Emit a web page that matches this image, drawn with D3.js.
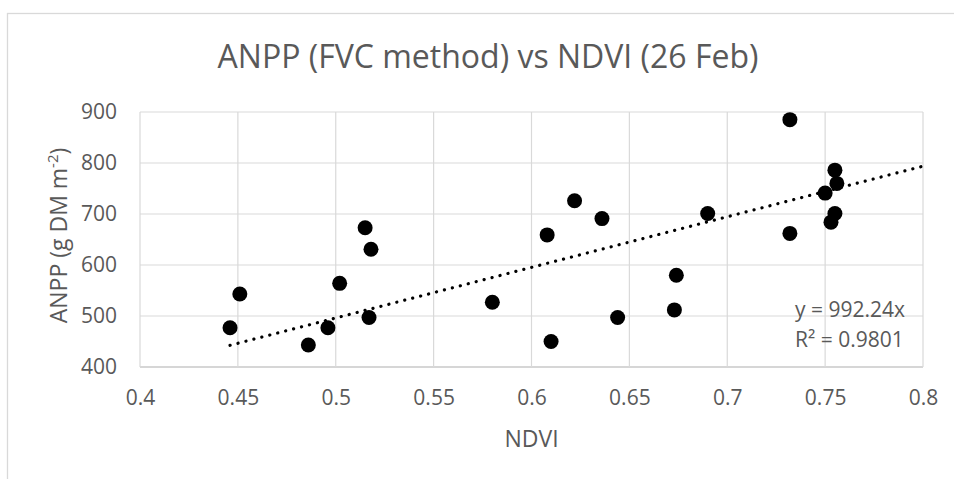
<!DOCTYPE html>
<html>
<head>
<meta charset="utf-8">
<script src="https://cdn.jsdelivr.net/npm/d3@7"></script>
<style>
  body { margin: 0; background: #fff; }
  text { font-family: "Open Sans", sans-serif; fill: #595959; }
</style>
</head>
<body>
<div id="chart"></div>
<script>
// data
var ndvi = [0.446, 0.451, 0.486, 0.496, 0.502, 0.515, 0.517, 0.518, 0.580, 0.608,
            0.610, 0.622, 0.636, 0.644, 0.673, 0.674, 0.690, 0.732, 0.732, 0.750,
            0.755, 0.756, 0.753, 0.755];
var anpp = [477, 543, 443, 477, 564, 673, 497, 631, 527, 659,
            450, 726, 691, 497, 512, 580, 701, 885, 662, 741,
            786, 760, 684, 701];
var xTicks = [0.4, 0.45, 0.5, 0.55, 0.6, 0.65, 0.7, 0.75, 0.8];
var yTicks = [400, 500, 600, 700, 800, 900];
var slope = 992.24;
var eqnLabels = ["y = 992.24x", "R² = 0.9801"];

var width = 954, height = 479;
var margin = {top: 112, right: 31, bottom: 112, left: 140};
var w = width - margin.left - margin.right,
    h = height - margin.top - margin.bottom;

var svg = d3.select("#chart").append("svg")
    .attr("width", width)
    .attr("height", height);

// chart frame (cut off at right and bottom)
svg.append("rect")
    .attr("x", 7.5).attr("y", 13.5)
    .attr("width", 980).attr("height", 500)
    .attr("fill", "none")
    .attr("stroke", "#d9d9d9")
    .attr("stroke-width", 1.3);

svg.append("text")
    .attr("x", 488).attr("y", 68)
    .attr("text-anchor", "middle")
    .style("font-size", "32px")
    .text("ANPP (FVC method) vs NDVI (26 Feb)");

var g = svg.append("g")
    .attr("transform", "translate(" + margin.left + "," + margin.top + ")");

var x = d3.scaleLinear().domain([0.4, 0.8]).range([0, w]);
var y = d3.scaleLinear().domain([400, 900]).range([h, 0]);

// gridlines
g.selectAll(".hgrid").data(yTicks).enter().append("line")
    .attr("x1", 0).attr("x2", w)
    .attr("y1", function(d) { return y(d); })
    .attr("y2", function(d) { return y(d); })
    .attr("stroke", function(d) { return d == 400 ? "#c8c8c8" : "#d9d9d9"; })
    .attr("stroke-width", function(d) { return d == 400 ? 1.6 : 1.2; });

g.selectAll(".vgrid").data(xTicks).enter().append("line")
    .attr("y1", 0).attr("y2", h)
    .attr("x1", function(d) { return x(d); })
    .attr("x2", function(d) { return x(d); })
    .attr("stroke", "#d9d9d9")
    .attr("stroke-width", 1.2);

// axes (labels only)
var xAxis = g.append("g")
    .attr("transform", "translate(0," + h + ")")
    .call(d3.axisBottom(x).tickValues(xTicks).tickSize(0).tickPadding(23)
          .tickFormat(function(d) { return String(+d.toFixed(2)); }));
var yAxis = g.append("g")
    .call(d3.axisLeft(y).tickValues(yTicks).tickSize(0).tickPadding(23));
[xAxis, yAxis].forEach(function(a) {
    a.select(".domain").remove();
    a.selectAll("text")
        .style("font-family", "'Open Sans', sans-serif")
        .style("font-size", "21px")
        .attr("fill", "#595959");
});

// trendline through origin, from smallest NDVI to end of axis
var trendX = [d3.min(ndvi), 0.8];
g.append("line")
    .attr("x1", x(trendX[0])).attr("y1", y(slope * trendX[0]))
    .attr("x2", x(trendX[1])).attr("y2", y(slope * trendX[1]))
    .attr("stroke", "#000")
    .attr("stroke-width", 3.2)
    .attr("stroke-linecap", "round")
    .attr("stroke-dasharray", "0.1,8.1");

// points
g.selectAll(".dot").data(ndvi).enter().append("circle")
    .attr("cx", function(d) { return x(d); })
    .attr("cy", function(d, i) { return y(anpp[i]); })
    .attr("r", 7.5)
    .attr("fill", "#000");

// equation
g.selectAll(".eqn").data(eqnLabels).enter().append("text")
    .attr("x", 655)
    .attr("y", function(d, i) { return 205 + i * 30; })
    .style("font-size", "21px")
    .text(function(d) { return d; });

// axis titles
svg.append("text")
    .attr("x", margin.left + w / 2).attr("y", 447)
    .attr("text-anchor", "middle")
    .style("font-size", "23px")
    .text("NDVI");

var yt = svg.append("text")
    .attr("transform", "translate(67," + (margin.top + h / 2 - 4) + ") rotate(-90)")
    .attr("text-anchor", "middle")
    .style("font-size", "23px");
yt.append("tspan").text("ANPP (g DM m");
yt.append("tspan").attr("dy", -9).style("font-size", "15px").text("-2");
yt.append("tspan").attr("dy", 9).text(")");
</script>
</body>
</html>
